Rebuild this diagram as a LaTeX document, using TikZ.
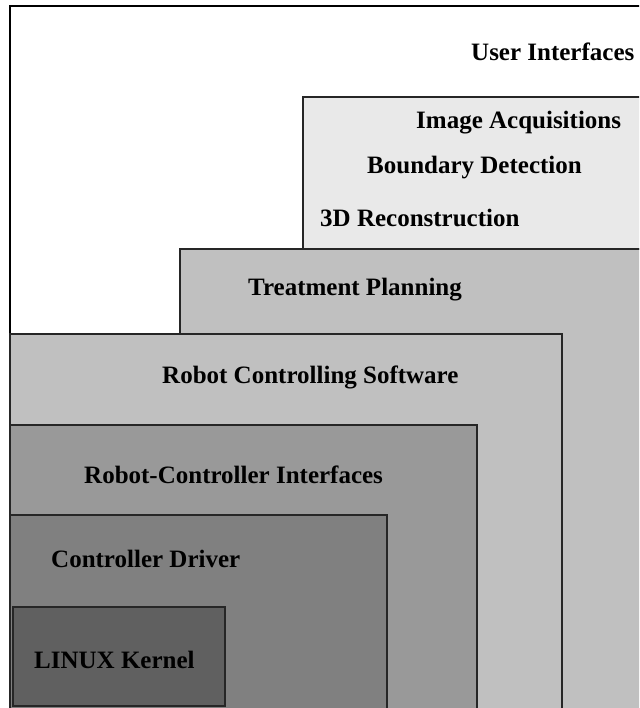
\documentclass[tikz,border=0pt]{standalone}
\usepackage{fontspec}
\setmainfont{Liberation Serif}
\definecolor{cImg}{HTML}{E9E9E9}
\definecolor{cMid}{HTML}{C0C0C0}
\definecolor{cIfc}{HTML}{999999}
\definecolor{cDrv}{HTML}{808080}
\definecolor{cKer}{HTML}{606060}
\begin{document}
\begin{tikzpicture}[x=1pt,y=-1pt,
  layer/.style={draw=black!85,line width=1.1pt},
  lbl/.style={anchor=west,inner sep=0pt,font=\fontsize{25}{28}\selectfont\bfseries}]
\useasboundingbox (0,0) rectangle (639,708);
\clip (0,0) rectangle (639,708);
\fill[white] (0,0) rectangle (639,708);
% outer frame
\draw[black,line width=1.6pt] (10,720) -- (10,6) -- (650,6);
% treatment planning
\filldraw[layer,fill=cMid] (180,720) rectangle (650,249);
% image box
\filldraw[layer,fill=cImg] (303,249) rectangle (650,97);
% robot controlling software
\filldraw[layer,fill=cMid] (10,720) rectangle (562,334);
% robot-controller interfaces
\filldraw[layer,fill=cIfc] (10,720) rectangle (477,425);
% controller driver
\filldraw[layer,fill=cDrv] (10,720) rectangle (387,515);
% linux kernel
\filldraw[layer,fill=cKer] (13,706) rectangle (225,607);
\node[lbl] (ui) at (471,52) {User Interfaces};
\node[lbl] (ia) at (416,123) {Image Acquisitions};
\node[lbl] (bd) at (367,168) {Boundary Detection};
\node[lbl] (rc) at (320,218) {3D Reconstruction};
\node[lbl] (tp) at (248,290) {Treatment Planning};
\node[lbl] (rcs) at (162,377) {Robot Controlling Software};
\node[lbl] (rci) at (84,475) {Robot-Controller Interfaces};
\node[lbl] (cd) at (51,559) {Controller Driver};
\node[lbl] (lk) at (34,660) {LINUX Kernel};
\end{tikzpicture}
\end{document}
